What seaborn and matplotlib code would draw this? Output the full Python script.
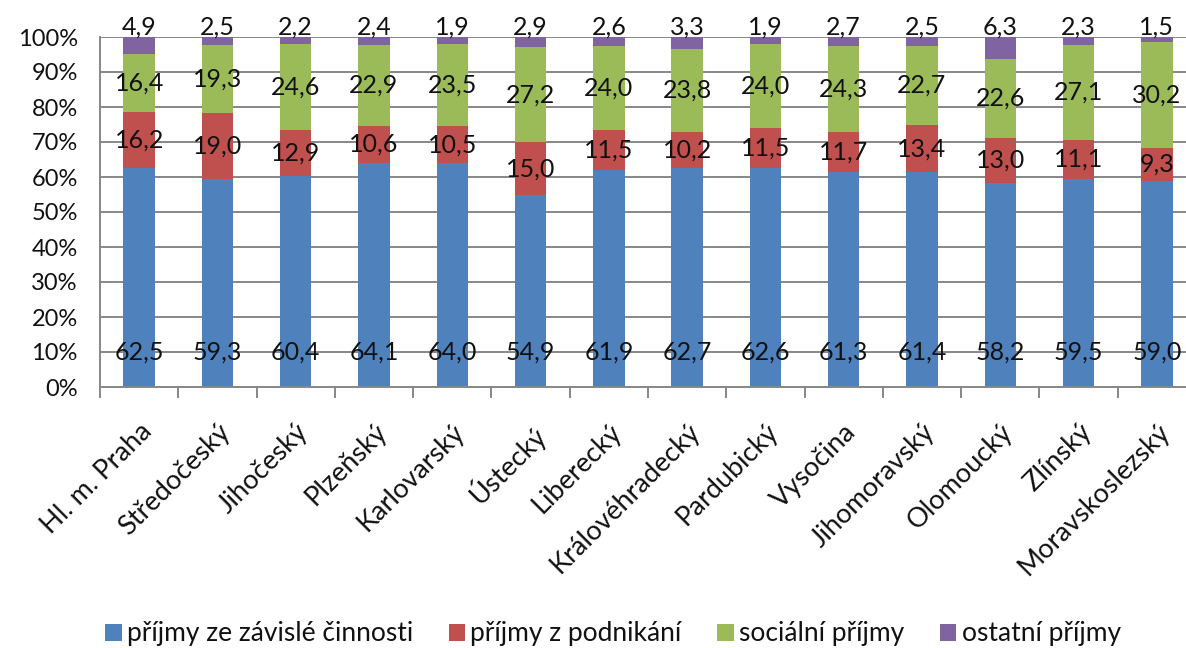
import numpy as np
import pandas as pd
import matplotlib
matplotlib.use("Agg")
import matplotlib.pyplot as plt
from matplotlib.patches import Patch
import seaborn as sns

# Struktura příjmů domácností podle krajů (podíl v %)
regions = ["Hl. m. Praha", "Středočeský", "Jihočeský", "Plzeňský", "Karlovarský",
           "Ústecký", "Liberecký", "Královéhradecký", "Pardubický", "Vysočina",
           "Jihomoravský", "Olomoucký", "Zlínský", "Moravskoslezský"]
zavisla = [62.5, 59.3, 60.4, 64.1, 64.0, 54.9, 61.9, 62.7, 62.6, 61.3, 61.4, 58.2, 59.5, 59.0]
podnikani = [16.2, 19.0, 12.9, 10.6, 10.5, 15.0, 11.5, 10.2, 11.5, 11.7, 13.4, 13.0, 11.1, 9.3]
socialni = [16.4, 19.3, 24.6, 22.9, 23.5, 27.2, 24.0, 23.8, 24.0, 24.3, 22.7, 22.6, 27.1, 30.2]
ostatni = [4.9, 2.5, 2.2, 2.4, 1.9, 2.9, 2.6, 3.3, 1.9, 2.7, 2.5, 6.3, 2.3, 1.5]
series_names = ["příjmy ze závislé činnosti", "příjmy z podnikání",
                "sociální příjmy", "ostatní příjmy"]
y_ticks = list(range(0, 101, 10))

colors = ["#4F81BD", "#C0504D", "#9BBB59", "#8064A2"]
grid_color = "#878787"
text_color = "#111111"

sns.set_theme(style="white")
plt.rcParams["font.family"] = ["Lato", "DejaVu Sans"]
plt.rcParams["text.color"] = text_color

values = np.array([zavisla, podnikani, socialni, ostatni])
tops = values.cumsum(axis=0)

W, H = 1186, 648
fig = plt.figure(figsize=(W / 100, H / 100), dpi=100)
ax = fig.add_axes([100 / W, 1 - 387 / H, 1096 / W, 350 / H])

# stacked bars: draw cumulative totals from the top series down
for i in reversed(range(len(series_names))):
    df = pd.DataFrame({"kraj": regions, "hodnota": tops[i]})
    sns.barplot(data=df, x="kraj", y="hodnota", color=colors[i], saturation=1,
                width=0.4, linewidth=0, ax=ax, zorder=2)

def fmt(v):
    return f"{v:.1f}".replace(".", ",")

fs_val = 18
for j in range(len(regions)):
    ax.text(j, 10, fmt(zavisla[j]), ha="center", va="center", fontsize=fs_val, zorder=3)
    ax.text(j, (tops[0][j] + tops[1][j]) / 2, fmt(podnikani[j]), ha="center",
            va="center", fontsize=fs_val, zorder=3)
    ax.text(j, (tops[1][j] + tops[2][j]) / 2, fmt(socialni[j]), ha="center",
            va="center", fontsize=fs_val, zorder=3)
    ax.text(j, 102.8, fmt(ostatni[j]), ha="center", va="center", fontsize=fs_val,
            zorder=3, clip_on=False)

ax.set_xlim(-0.5, len(regions) - 0.5)
ax.set_ylim(0, 100)
ax.set_yticks(y_ticks)
ax.set_yticklabels([f"{t}%" for t in y_ticks], fontsize=17)
ax.set_xticks(range(len(regions)))
ax.set_xticklabels(regions, rotation=45, ha="right", va="top",
                   rotation_mode="anchor", fontsize=19.5)
ax.set_xticks(np.arange(-0.5, len(regions), 1), minor=True)
ax.set_xlabel("")
ax.set_ylabel("")

ax.set_axisbelow(True)
ax.yaxis.grid(True, color=grid_color, linewidth=1.4)
ax.xaxis.grid(False)
for side in ("top", "right"):
    ax.spines[side].set_visible(False)
for side in ("left", "bottom"):
    ax.spines[side].set_color(grid_color)
    ax.spines[side].set_linewidth(1.4)

ax.tick_params(axis="y", which="major", length=9, width=1.4, color=grid_color,
               pad=7, labelcolor=text_color)
ax.tick_params(axis="x", which="major", length=0, pad=23, labelcolor=text_color)
ax.tick_params(axis="x", which="minor", length=8, width=1.4, color=grid_color,
               bottom=True)

handles = [Patch(facecolor=c, edgecolor="none") for c in colors]
fig.legend(handles, series_names, loc="center", bbox_to_anchor=(613 / W, 1 - 634 / H),
           ncol=4, frameon=False, fontsize=19, handlelength=0.62, handleheight=0.62,
           handletextpad=0.2, columnspacing=1.35)

fig.savefig("out.png", dpi=100)
